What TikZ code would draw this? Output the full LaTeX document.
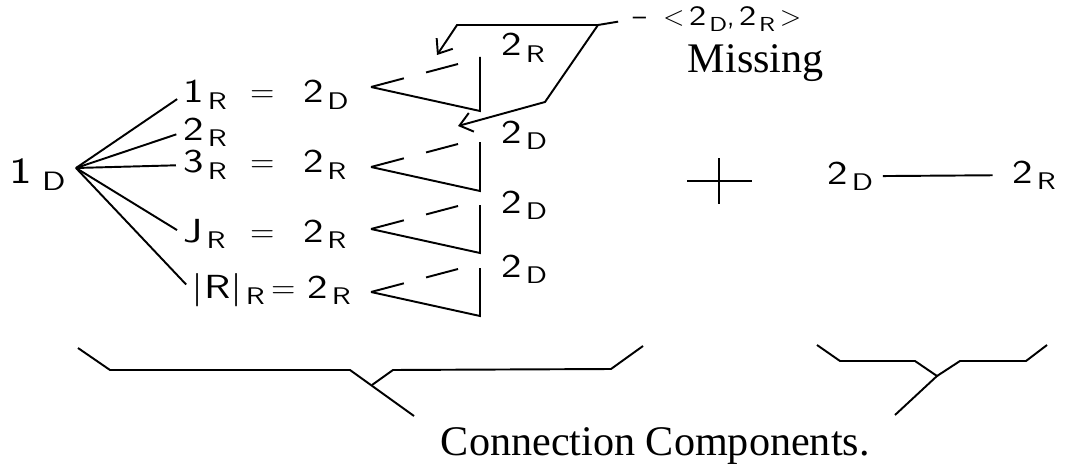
\documentclass[tikz,border=0pt]{standalone}
\usepackage{fontspec}
\usetikzlibrary{positioning}
\usetikzlibrary{arrows.meta}
\newfontfamily\capfont{Liberation Serif}
\newcommand{\att}[2]{\scalebox{1.3}[1]{#1\kern0.08em\raisebox{-0.2em}{\scalebox{0.72}{#2}}}}
\newcommand{\eqrow}[4][38pt]{\makebox[#1][l]{#3}\makebox[#2][l]{=}#4}
\tikzset{
    lab/.style = {inner sep=0pt, anchor=base west, font=\sffamily\fontsize{19}{21}\selectfont},
    caption/.style = {inner sep=0pt, anchor=base west, font=\capfont\fontsize{24}{28}\selectfont},
    barb/.style = {-{Straight Barb[length=7pt,width=11pt]}},
    ticks/.style = {dash pattern=on 0.68cm off 0.46cm}}

\begin{document}
\begin{tikzpicture}[x=0.02cm, y=-0.02cm, line width=1.1pt, line join=miter]
        \useasboundingbox (0,0) rectangle (1068,466);
        % attribute tree
        \node[lab, font=\sffamily\fontsize{21}{24}\selectfont] (root) at (9,183) {\att{1}{\,D}};
        \coordinate (fan) at (76,168);
        \node[lab] (r1) at (183,103) {\eqrow{30pt}{\att1R}{\att2D}};
        \node[lab] (r2) at (183,140) {\att2R};
        \node[lab] (r3) at (183,173) {\eqrow{30pt}{\att3R}{\att2R}};
        \node[lab] (r4) at (183,242) {\eqrow{30pt}{\att JR}{\att2R}};
        \node[lab] (r5) at (191,298) {\eqrow[45pt]{21pt}{\att{|R|}R}{\att2R}};
        \foreach \r in {r1,r2,r3,r4,r5}
            \draw[shorten >=4pt] (fan) -- (\r.west);
        % pairs per row
        \foreach \ay/\vy/\ty/\l/\n in {87/57/56/R/1, 167/142/143/D/2, 229/205/213/D/3, 292/268/277/D/4} {
            \coordinate (apex\n) at (371,\ay);
            \draw (480,\vy) -- (480,\ay+24) -- (apex\n);
            \draw[ticks] (apex\n) -- ++(87,-23);
            \node[lab] (tag\n) at (501,\ty) {\att2\l};
        }
        % missing pair
        \node[lab, font=\sffamily\fontsize{16}{18}\selectfont] (pair) at (632,26) {--\hspace{0.6em}<\,\att2D,\,\att2R\,>};
        \node[caption] (missing) at (687,73) {Missing};
        \coordinate (split) at (598,25);
        \coordinate (bend1) at (457,25);
        \coordinate (bend2) at (545,102);
        \coordinate (tip1) at (437,55);
        \coordinate (tip2) at (458,126);
        \draw[shorten >=8pt] (split) -- (pair.west);
        \draw[barb] (split) -- (bend1) -- (tip1);
        \draw[barb] (split) -- (bend2) -- (tip2);
        % second component
        \coordinate (plus) at (719,181);
        \draw (plus) +(-32,0) -- +(33,0) (plus) +(0,-23) -- +(0,23);
        \node[lab] (d2) at (827,184) {\att2D};
        \node[lab] (e2) at (1012,183) {\att2R};
        \draw[shorten <=5pt, shorten >=11pt] (d2.east) -- (e2.west);
        % braces
        \draw (78,348) -- (110,370) -- (350,370) -- (414,416);
        \draw (372,385) -- (393,370) -- (611,369) -- (643,346);
        \draw (817,345) -- (840,361) -- (915,361) -- (937,376) -- (895,415);
        \draw (937,376) -- (960,361) -- (1026,361) -- (1047,345);
        \node[caption] (conn) at (440,455) {Connection Components.};
\end{tikzpicture}
\end{document}
